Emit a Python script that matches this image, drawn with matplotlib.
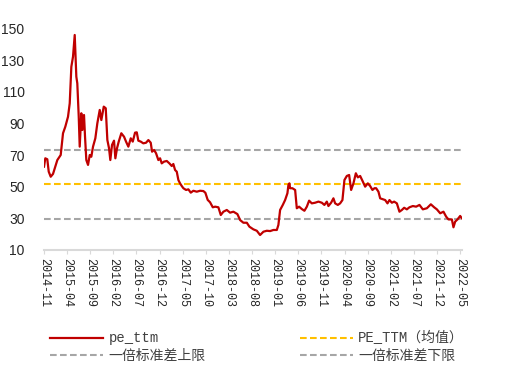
import matplotlib
matplotlib.use("Agg")
import matplotlib.pyplot as plt
import numpy as np

# months since 2014-11 and pe_ttm values
months = [0.0, 0.28, 0.71, 1.02, 1.45, 1.95, 2.44, 2.88, 3.61, 4.11, 4.61, 5.19, 5.56, 5.91,
          6.27, 6.64, 6.99, 7.2, 7.51, 7.72, 8.07, 8.29, 8.65, 8.87, 9.15, 9.52, 9.89, 10.23,
          10.6, 11.1, 11.53, 12.05, 12.4, 12.92, 13.35, 13.7, 14.06, 14.34, 14.71, 15.14,
          15.43, 15.79, 16.16, 16.72, 17.31, 17.74, 18.24, 18.76, 19.19, 19.69, 20.06, 20.4,
          20.92, 21.48, 22.07, 22.57, 23.08, 23.37, 23.8, 24.23, 24.73, 25.1, 25.46, 25.96,
          26.55, 27.11, 27.63, 27.97, 28.34, 28.71, 29.06, 29.42, 29.79, 30.14, 30.72, 31.22,
          31.74, 32.3, 33.04, 33.75, 34.47, 34.9, 35.4, 35.91, 36.5, 37.0, 37.71, 38.23,
          38.79, 39.53, 40.24, 40.96, 41.82, 42.41, 43.12, 43.86, 44.42, 45.28, 46.02, 46.73,
          47.45, 48.18, 48.9, 49.61, 50.35, 50.69, 51.06, 51.64, 52.14, 52.64, 52.86, 53.07,
          53.22, 53.72, 54.31, 54.67, 55.17, 55.75, 56.32, 56.84, 57.33, 57.92, 58.63, 59.35,
          60.08, 60.64, 61.16, 61.51, 62.09, 62.59, 62.96, 63.54, 64.04, 64.54, 64.97, 65.49,
          65.99, 66.42, 66.92, 67.44, 67.87, 68.37, 68.86, 69.45, 70.03, 70.53, 71.03, 71.46,
          71.83, 72.33, 72.7, 73.28, 73.78, 74.28, 74.71, 75.23, 75.72, 76.31, 76.87, 77.39,
          77.89, 78.47, 79.03, 79.77, 80.48, 81.2, 81.93, 82.8, 83.66, 84.38, 84.96, 85.68,
          86.39, 86.98, 87.47, 88.21, 88.55, 88.92, 89.42, 90.0, 90.37]
pe_ttm = [62.6, 67.9, 67.3, 59.4, 56.2, 58.0, 62.6, 66.8, 70.0, 83.8, 88.0, 94.3, 102.8, 126.0,
          132.4, 146.2, 119.7, 115.5, 94.3, 75.3, 96.5, 85.9, 95.4, 81.6, 66.8, 63.7, 70.0, 68.9,
          75.3, 80.6, 90.1, 98.6, 92.2, 100.7, 99.7, 79.5, 74.3, 66.8, 76.4, 79.1,
          67.9, 74.3, 78.5, 83.8, 81.6, 78.5, 75.3, 80.6, 78.5, 84.2, 84.4, 79.1,
          78.5, 77.4, 77.8, 79.5, 77.8, 72.1, 73.2, 71.1, 66.8, 67.9, 64.7, 65.8,
          66.2, 64.7, 63.0, 64.3, 60.5, 59.4, 54.1, 52.0, 50.3, 48.9, 47.8, 48.2,
          46.1, 47.3, 46.7, 47.3, 47.1, 46.0, 41.5, 40.0, 36.8, 37.2, 36.8, 31.9,
          34.0, 35.1, 33.4, 34.0, 32.5, 28.7, 27.0, 27.0, 24.5, 22.8, 21.9, 19.2,
          21.3, 21.9, 21.7, 22.4, 22.4, 25.6, 35.1, 38.3, 41.4, 45.7, 51.0, 52.0,
          48.9, 48.9, 47.8, 36.2, 37.2, 35.7, 34.6, 37.2, 41.0, 39.3, 39.7, 40.4,
          39.7, 38.3, 40.4, 37.6, 39.7, 42.5, 39.3, 38.3, 39.3, 41.4, 54.1, 56.7,
          57.3, 47.8, 52.0, 58.4, 55.8, 56.7, 53.7, 49.9, 52.0, 50.3, 47.8, 48.9,
          48.9, 46.7, 42.5, 41.9, 41.4, 39.3, 41.4, 39.7, 40.4, 39.3, 34.0, 35.1,
          36.5, 35.5, 36.8, 37.6, 37.2, 38.3, 35.5, 36.2, 38.7, 36.8, 35.5, 33.0,
          34.0, 30.8, 29.1, 29.1, 24.1, 27.7, 29.1, 31.3, 29.8]

pe_mean = 51.4
upper = 73.2
lower = 29.6

tick_labels = ['2014-11', '2015-04', '2015-09', '2016-02', '2016-07', '2016-12', '2017-05',
               '2017-10', '2018-03', '2018-08', '2019-01', '2019-06', '2019-11', '2020-04',
               '2020-09', '2021-02', '2021-07', '2021-12', '2022-05']
tick_months = [5 * i for i in range(len(tick_labels))]

fig = plt.figure(figsize=(5.1, 3.8), dpi=100)
ax = fig.add_axes([0.0863, 0.3434, 0.8196, 0.5803])

dash = (0, (3.2, 1.6))
l_pe, = ax.plot(months, pe_ttm, color='#C00000', lw=1.6, label='pe_ttm', zorder=3)
l_mean = ax.axhline(pe_mean, color='#FFC000', lw=1.5, ls=dash, label='PE_TTM（均值）')
l_up = ax.axhline(upper, color='#A6A6A6', lw=1.5, ls=dash, label='一倍标准差上限')
l_lo = ax.axhline(lower, color='#A6A6A6', lw=1.5, ls=dash, label='一倍标准差下限')

ax.set_xlim(0, 90.4)
ax.set_ylim(10, 150)
ax.set_yticks(range(10, 151, 20))
ax.set_xticks(tick_months)
ax.set_xticklabels(tick_labels, rotation=-90, family=['Liberation Mono'], fontsize=8.5,
                   color='#262626')
for lab in ax.get_yticklabels():
    lab.set_family(['Liberation Sans'])
    lab.set_fontsize(10)
    lab.set_color('#262626')

for s in ['top', 'right', 'left']:
    ax.spines[s].set_visible(False)
ax.spines['bottom'].set_color('#D9D9D9')
ax.spines['bottom'].set_linewidth(1.5)
ax.tick_params(axis='y', length=0, pad=14)
ax.tick_params(axis='x', length=3, color='#D9D9D9', pad=3)

fig.legend([l_pe, l_up, l_mean, l_lo],
           ['pe_ttm', '一倍标准差上限', 'PE_TTM（均值）', '一倍标准差下限'],
           ncol=2, loc='upper left', bbox_to_anchor=(0.098, 0.128), frameon=False,
           borderaxespad=0, borderpad=0, handlelength=3.8, handletextpad=0.4,
           columnspacing=6.8, labelspacing=0.25,
           prop={'family': ['Liberation Mono', 'Noto Sans CJK SC'], 'size': 10},
           labelcolor='#404040')

fig.savefig('out.png', dpi=100)
